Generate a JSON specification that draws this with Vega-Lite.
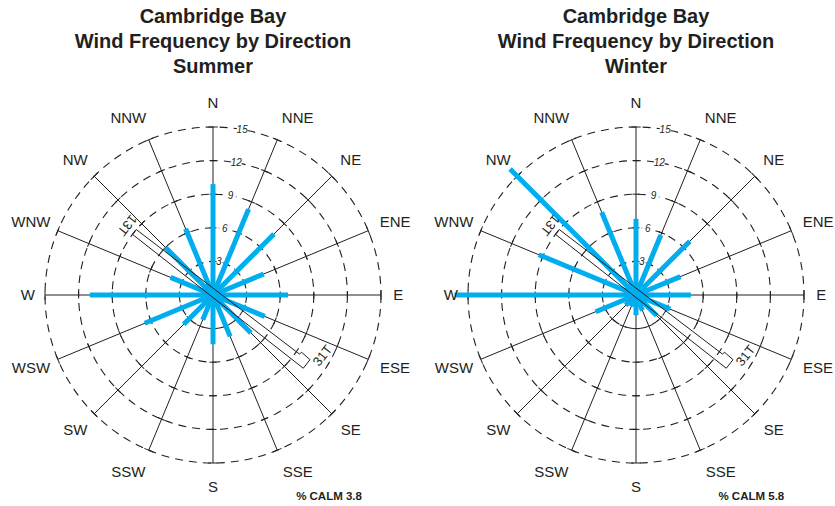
{
  "$schema": "https://vega.github.io/schema/vega-lite/v6.json",
  "background": "white",
  "padding": {"left": 3, "top": 7, "right": 0, "bottom": 0},
  "spacing": 3,
  "config": {"view": {"stroke": null}, "font": "Liberation Sans"},
  "datasets": {
    "dirs": [
      {"dir": "N", "deg": 0, "ticks": [3, 6, 9, 12, 15]},
      {"dir": "NNE", "deg": 22.5, "ticks": [3, 6, 9, 12, 15]},
      {"dir": "NE", "deg": 45, "ticks": [3, 6, 9, 12, 15]},
      {"dir": "ENE", "deg": 67.5, "ticks": [3, 6, 9, 12, 15]},
      {"dir": "E", "deg": 90, "ticks": [3, 6, 9, 12, 15]},
      {"dir": "ESE", "deg": 112.5, "ticks": [3, 6, 9, 12, 15]},
      {"dir": "SE", "deg": 135, "ticks": [3, 6, 9, 12, 15]},
      {"dir": "SSE", "deg": 157.5, "ticks": [3, 6, 9, 12, 15]},
      {"dir": "S", "deg": 180, "ticks": [3, 6, 9, 12, 15]},
      {"dir": "SSW", "deg": 202.5, "ticks": [3, 6, 9, 12, 15]},
      {"dir": "SW", "deg": 225, "ticks": [3, 6, 9, 12, 15]},
      {"dir": "WSW", "deg": 247.5, "ticks": [3, 6, 9, 12, 15]},
      {"dir": "W", "deg": 270, "ticks": [3, 6, 9, 12, 15]},
      {"dir": "WNW", "deg": 292.5, "ticks": [3, 6, 9, 12, 15]},
      {"dir": "NW", "deg": 315, "ticks": [3, 6, 9, 12, 15]},
      {"dir": "NNW", "deg": 337.5, "ticks": [3, 6, 9, 12, 15]}
    ],
    "rings": [{"r": 3}, {"r": 6}, {"r": 9}, {"r": 12}, {"r": 15}],
    "freq": [
      {"season": "Summer", "dir": "N", "deg": 0, "pct": 9.9},
      {"season": "Summer", "dir": "NNE", "deg": 22.5, "pct": 8.3},
      {"season": "Summer", "dir": "NE", "deg": 45, "pct": 7.7},
      {"season": "Summer", "dir": "ENE", "deg": 67.5, "pct": 4.9},
      {"season": "Summer", "dir": "E", "deg": 90, "pct": 6.7},
      {"season": "Summer", "dir": "ESE", "deg": 112.5, "pct": 5.0},
      {"season": "Summer", "dir": "SE", "deg": 135, "pct": 4.8},
      {"season": "Summer", "dir": "SSE", "deg": 157.5, "pct": 4.0},
      {"season": "Summer", "dir": "S", "deg": 180, "pct": 4.4},
      {"season": "Summer", "dir": "SSW", "deg": 202.5, "pct": 2.4},
      {"season": "Summer", "dir": "SW", "deg": 225, "pct": 3.7},
      {"season": "Summer", "dir": "WSW", "deg": 247.5, "pct": 6.6},
      {"season": "Summer", "dir": "W", "deg": 270, "pct": 11.0},
      {"season": "Summer", "dir": "WNW", "deg": 292.5, "pct": 4.1},
      {"season": "Summer", "dir": "NW", "deg": 315, "pct": 6.0},
      {"season": "Summer", "dir": "NNW", "deg": 337.5, "pct": 6.4},
      {"season": "Winter", "dir": "N", "deg": 0, "pct": 6.8},
      {"season": "Winter", "dir": "NNE", "deg": 22.5, "pct": 5.8},
      {"season": "Winter", "dir": "NE", "deg": 45, "pct": 6.8},
      {"season": "Winter", "dir": "ENE", "deg": 67.5, "pct": 4.3},
      {"season": "Winter", "dir": "E", "deg": 90, "pct": 4.9},
      {"season": "Winter", "dir": "ESE", "deg": 112.5, "pct": 3.3},
      {"season": "Winter", "dir": "SE", "deg": 135, "pct": 2.6},
      {"season": "Winter", "dir": "SSE", "deg": 157.5, "pct": 1.5},
      {"season": "Winter", "dir": "S", "deg": 180, "pct": 1.8},
      {"season": "Winter", "dir": "SSW", "deg": 202.5, "pct": 1.1},
      {"season": "Winter", "dir": "SW", "deg": 225, "pct": 1.3},
      {"season": "Winter", "dir": "WSW", "deg": 247.5, "pct": 3.9},
      {"season": "Winter", "dir": "W", "deg": 270, "pct": 16.2},
      {"season": "Winter", "dir": "WNW", "deg": 292.5, "pct": 9.4},
      {"season": "Winter", "dir": "NW", "deg": 315, "pct": 15.9},
      {"season": "Winter", "dir": "NNW", "deg": 337.5, "pct": 8.0}
    ],
    "runway": [
      {"i": 1, "x": -6.86, "y": 5.85},
      {"i": 2, "x": 7.71, "y": -5.27},
      {"i": 3, "x": 7.92, "y": -5.12},
      {"i": 4, "x": 8.66, "y": -5.78},
      {"i": 5, "x": 8.06, "y": -6.54},
      {"i": 6, "x": -7.2, "y": 5.42},
      {"i": 7, "x": -6.86, "y": 5.85}
    ],
    "runwayLabels": [
      {"t": "13T", "x": -7.68, "y": 6.25},
      {"t": "31T", "x": 9.8, "y": -5.43}
    ],
    "calm": [
      {"season": "Summer", "label": "% CALM 3.8"},
      {"season": "Winter", "label": "% CALM 5.8"}
    ]
  },
  "hconcat": [
    {
      "width": 420,
      "height": 420,
      "title": {"text": ["Cambridge Bay", "Wind Frequency by Direction", "Summer"], "fontSize": 20, "font": "Liberation Sans", "fontWeight": "bold", "lineHeight": 25, "offset": 8, "anchor": "middle", "color": "#231f20"},
      "layer": [
        {
          "data": {"name": "rings"},
          "mark": {"type": "point", "shape": "circle", "filled": false, "stroke": "#231f20", "strokeWidth": 1.1, "strokeDash": [8, 6], "opacity": 1},
          "encoding": {
            "x": {"datum": 0, "type": "quantitative", "scale": {"domain": [-18.75, 18.75], "nice": false, "zero": false}, "axis": null},
            "y": {"datum": 0, "type": "quantitative", "scale": {"domain": [-18.75, 18.75], "nice": false, "zero": false}, "axis": null},
            "size": {"field": "r", "type": "quantitative", "legend": null, "scale": {"type": "pow", "exponent": 2, "domain": [0, 15], "range": [0, 112896], "zero": true}}
          }
        },
        {
          "data": {"name": "rings"},
          "transform": [{"calculate": "datum.r*sin(10*PI/180)", "as": "lx"}, {"calculate": "datum.r*cos(10*PI/180)", "as": "ly"}],
          "mark": {"type": "point", "shape": "circle", "filled": true, "color": "white", "opacity": 1, "size": 120},
          "encoding": {
            "x": {"field": "lx", "type": "quantitative", "scale": {"domain": [-18.75, 18.75], "nice": false, "zero": false}, "axis": null},
            "y": {"field": "ly", "type": "quantitative", "scale": {"domain": [-18.75, 18.75], "nice": false, "zero": false}, "axis": null}
          }
        },
        {
          "data": {"name": "dirs"},
          "transform": [{"calculate": "15*sin(datum.deg*PI/180)", "as": "ex"}, {"calculate": "15*cos(datum.deg*PI/180)", "as": "ey"}],
          "mark": {"type": "rule", "color": "#231f20", "strokeWidth": 1},
          "encoding": {
            "x": {"field": "ex", "type": "quantitative", "scale": {"domain": [-18.75, 18.75], "nice": false, "zero": false}, "axis": null},
            "y": {"field": "ey", "type": "quantitative", "scale": {"domain": [-18.75, 18.75], "nice": false, "zero": false}, "axis": null},
            "x2": {"datum": 0},
            "y2": {"datum": 0}
          }
        },
        {
          "data": {"name": "dirs"},
          "transform": [{"flatten": ["ticks"], "as": ["r"]}, {"calculate": "datum.r*sin(datum.deg*PI/180)", "as": "tx"}, {"calculate": "datum.r*cos(datum.deg*PI/180)", "as": "ty"}],
          "mark": {"type": "point", "shape": "stroke", "filled": false, "stroke": "#231f20", "strokeWidth": 1, "opacity": 1},
          "encoding": {
            "x": {"field": "tx", "type": "quantitative", "scale": {"domain": [-18.75, 18.75], "nice": false, "zero": false}, "axis": null},
            "y": {"field": "ty", "type": "quantitative", "scale": {"domain": [-18.75, 18.75], "nice": false, "zero": false}, "axis": null},
            "angle": {"field": "deg", "type": "quantitative", "scale": null},
            "size": {"condition": {"test": "datum.r == 15", "value": 90}, "value": 49}
          }
        },
        {
          "data": {"name": "freq"},
          "transform": [{"filter": "datum.season == 'Summer'"}, {"calculate": "datum.pct*sin(datum.deg*PI/180)", "as": "bx"}, {"calculate": "datum.pct*cos(datum.deg*PI/180)", "as": "by"}],
          "mark": {"type": "rule", "color": "#00aeef", "strokeWidth": 5, "strokeCap": "butt"},
          "encoding": {
            "x": {"field": "bx", "type": "quantitative", "scale": {"domain": [-18.75, 18.75], "nice": false, "zero": false}, "axis": null},
            "y": {"field": "by", "type": "quantitative", "scale": {"domain": [-18.75, 18.75], "nice": false, "zero": false}, "axis": null},
            "x2": {"datum": 0},
            "y2": {"datum": 0}
          }
        },
        {
          "data": {"name": "runway"},
          "mark": {"type": "line", "color": "#231f20", "strokeWidth": 1},
          "encoding": {
            "x": {"field": "x", "type": "quantitative", "scale": {"domain": [-18.75, 18.75], "nice": false, "zero": false}, "axis": null},
            "y": {"field": "y", "type": "quantitative", "scale": {"domain": [-18.75, 18.75], "nice": false, "zero": false}, "axis": null},
            "order": {"field": "i", "type": "quantitative"}
          }
        },
        {
          "data": {"name": "rings"},
          "transform": [{"calculate": "datum.r*sin(10*PI/180)", "as": "lx"}, {"calculate": "datum.r*cos(10*PI/180)", "as": "ly"}],
          "mark": {"type": "text", "fontSize": 10, "fontStyle": "italic", "color": "#231f20", "align": "center", "baseline": "middle"},
          "encoding": {
            "x": {"field": "lx", "type": "quantitative", "scale": {"domain": [-18.75, 18.75], "nice": false, "zero": false}, "axis": null},
            "y": {"field": "ly", "type": "quantitative", "scale": {"domain": [-18.75, 18.75], "nice": false, "zero": false}, "axis": null},
            "text": {"field": "r", "type": "quantitative"}
          }
        },
        {
          "data": {"name": "dirs"},
          "transform": [
            {"calculate": "sin(datum.deg*PI/180)", "as": "s"},
            {"calculate": "16.07*datum.s + (datum.s > 0.01 ? 1 : (datum.s < -0.01 ? -1 : 0)) * length(datum.dir) * 0.47", "as": "dx"},
            {"calculate": "17.1*cos(datum.deg*PI/180)", "as": "dy"}
          ],
          "mark": {"type": "text", "fontSize": 15, "color": "#231f20", "align": "center", "baseline": "middle"},
          "encoding": {
            "x": {"field": "dx", "type": "quantitative", "scale": {"domain": [-18.75, 18.75], "nice": false, "zero": false}, "axis": null},
            "y": {"field": "dy", "type": "quantitative", "scale": {"domain": [-18.75, 18.75], "nice": false, "zero": false}, "axis": null},
            "text": {"field": "dir", "type": "nominal"}
          }
        },
        {
          "data": {"name": "runwayLabels"},
          "transform": [{"filter": "datum.t == '13T'"}],
          "mark": {"type": "text", "fontSize": 13, "color": "#231f20", "align": "center", "baseline": "middle", "angle": 128},
          "encoding": {
            "x": {"field": "x", "type": "quantitative", "scale": {"domain": [-18.75, 18.75], "nice": false, "zero": false}, "axis": null},
            "y": {"field": "y", "type": "quantitative", "scale": {"domain": [-18.75, 18.75], "nice": false, "zero": false}, "axis": null},
            "text": {"field": "t", "type": "nominal"}
          }
        },
        {
          "data": {"name": "runwayLabels"},
          "transform": [{"filter": "datum.t == '31T'"}],
          "mark": {"type": "text", "fontSize": 13, "color": "#231f20", "align": "center", "baseline": "middle", "angle": -52},
          "encoding": {
            "x": {"field": "x", "type": "quantitative", "scale": {"domain": [-18.75, 18.75], "nice": false, "zero": false}, "axis": null},
            "y": {"field": "y", "type": "quantitative", "scale": {"domain": [-18.75, 18.75], "nice": false, "zero": false}, "axis": null},
            "text": {"field": "t", "type": "nominal"}
          }
        },
        {
          "data": {"name": "calm"},
          "transform": [{"filter": "datum.season == 'Summer'"}],
          "mark": {"type": "text", "fontSize": 11.5, "fontWeight": "bold", "color": "#231f20", "align": "center", "baseline": "middle"},
          "encoding": {
            "x": {"datum": 10.36, "type": "quantitative", "scale": {"domain": [-18.75, 18.75], "nice": false, "zero": false}, "axis": null},
            "y": {"datum": -18.04, "type": "quantitative", "scale": {"domain": [-18.75, 18.75], "nice": false, "zero": false}, "axis": null},
            "text": {"field": "label", "type": "nominal"}
          }
        }
      ]
    },
    {
      "width": 420,
      "height": 420,
      "title": {"text": ["Cambridge Bay", "Wind Frequency by Direction", "Winter"], "fontSize": 20, "font": "Liberation Sans", "fontWeight": "bold", "lineHeight": 25, "offset": 8, "anchor": "middle", "color": "#231f20"},
      "layer": [
        {
          "data": {"name": "rings"},
          "mark": {"type": "point", "shape": "circle", "filled": false, "stroke": "#231f20", "strokeWidth": 1.1, "strokeDash": [8, 6], "opacity": 1},
          "encoding": {
            "x": {"datum": 0, "type": "quantitative", "scale": {"domain": [-18.75, 18.75], "nice": false, "zero": false}, "axis": null},
            "y": {"datum": 0, "type": "quantitative", "scale": {"domain": [-18.75, 18.75], "nice": false, "zero": false}, "axis": null},
            "size": {"field": "r", "type": "quantitative", "legend": null, "scale": {"type": "pow", "exponent": 2, "domain": [0, 15], "range": [0, 112896], "zero": true}}
          }
        },
        {
          "data": {"name": "rings"},
          "transform": [{"calculate": "datum.r*sin(10*PI/180)", "as": "lx"}, {"calculate": "datum.r*cos(10*PI/180)", "as": "ly"}],
          "mark": {"type": "point", "shape": "circle", "filled": true, "color": "white", "opacity": 1, "size": 120},
          "encoding": {
            "x": {"field": "lx", "type": "quantitative", "scale": {"domain": [-18.75, 18.75], "nice": false, "zero": false}, "axis": null},
            "y": {"field": "ly", "type": "quantitative", "scale": {"domain": [-18.75, 18.75], "nice": false, "zero": false}, "axis": null}
          }
        },
        {
          "data": {"name": "dirs"},
          "transform": [{"calculate": "15*sin(datum.deg*PI/180)", "as": "ex"}, {"calculate": "15*cos(datum.deg*PI/180)", "as": "ey"}],
          "mark": {"type": "rule", "color": "#231f20", "strokeWidth": 1},
          "encoding": {
            "x": {"field": "ex", "type": "quantitative", "scale": {"domain": [-18.75, 18.75], "nice": false, "zero": false}, "axis": null},
            "y": {"field": "ey", "type": "quantitative", "scale": {"domain": [-18.75, 18.75], "nice": false, "zero": false}, "axis": null},
            "x2": {"datum": 0},
            "y2": {"datum": 0}
          }
        },
        {
          "data": {"name": "dirs"},
          "transform": [{"flatten": ["ticks"], "as": ["r"]}, {"calculate": "datum.r*sin(datum.deg*PI/180)", "as": "tx"}, {"calculate": "datum.r*cos(datum.deg*PI/180)", "as": "ty"}],
          "mark": {"type": "point", "shape": "stroke", "filled": false, "stroke": "#231f20", "strokeWidth": 1, "opacity": 1},
          "encoding": {
            "x": {"field": "tx", "type": "quantitative", "scale": {"domain": [-18.75, 18.75], "nice": false, "zero": false}, "axis": null},
            "y": {"field": "ty", "type": "quantitative", "scale": {"domain": [-18.75, 18.75], "nice": false, "zero": false}, "axis": null},
            "angle": {"field": "deg", "type": "quantitative", "scale": null},
            "size": {"condition": {"test": "datum.r == 15", "value": 90}, "value": 49}
          }
        },
        {
          "data": {"name": "freq"},
          "transform": [{"filter": "datum.season == 'Winter'"}, {"calculate": "datum.pct*sin(datum.deg*PI/180)", "as": "bx"}, {"calculate": "datum.pct*cos(datum.deg*PI/180)", "as": "by"}],
          "mark": {"type": "rule", "color": "#00aeef", "strokeWidth": 5, "strokeCap": "butt"},
          "encoding": {
            "x": {"field": "bx", "type": "quantitative", "scale": {"domain": [-18.75, 18.75], "nice": false, "zero": false}, "axis": null},
            "y": {"field": "by", "type": "quantitative", "scale": {"domain": [-18.75, 18.75], "nice": false, "zero": false}, "axis": null},
            "x2": {"datum": 0},
            "y2": {"datum": 0}
          }
        },
        {
          "data": {"name": "runway"},
          "mark": {"type": "line", "color": "#231f20", "strokeWidth": 1},
          "encoding": {
            "x": {"field": "x", "type": "quantitative", "scale": {"domain": [-18.75, 18.75], "nice": false, "zero": false}, "axis": null},
            "y": {"field": "y", "type": "quantitative", "scale": {"domain": [-18.75, 18.75], "nice": false, "zero": false}, "axis": null},
            "order": {"field": "i", "type": "quantitative"}
          }
        },
        {
          "data": {"name": "rings"},
          "transform": [{"calculate": "datum.r*sin(10*PI/180)", "as": "lx"}, {"calculate": "datum.r*cos(10*PI/180)", "as": "ly"}],
          "mark": {"type": "text", "fontSize": 10, "fontStyle": "italic", "color": "#231f20", "align": "center", "baseline": "middle"},
          "encoding": {
            "x": {"field": "lx", "type": "quantitative", "scale": {"domain": [-18.75, 18.75], "nice": false, "zero": false}, "axis": null},
            "y": {"field": "ly", "type": "quantitative", "scale": {"domain": [-18.75, 18.75], "nice": false, "zero": false}, "axis": null},
            "text": {"field": "r", "type": "quantitative"}
          }
        },
        {
          "data": {"name": "dirs"},
          "transform": [
            {"calculate": "sin(datum.deg*PI/180)", "as": "s"},
            {"calculate": "16.07*datum.s + (datum.s > 0.01 ? 1 : (datum.s < -0.01 ? -1 : 0)) * length(datum.dir) * 0.47", "as": "dx"},
            {"calculate": "17.1*cos(datum.deg*PI/180)", "as": "dy"}
          ],
          "mark": {"type": "text", "fontSize": 15, "color": "#231f20", "align": "center", "baseline": "middle"},
          "encoding": {
            "x": {"field": "dx", "type": "quantitative", "scale": {"domain": [-18.75, 18.75], "nice": false, "zero": false}, "axis": null},
            "y": {"field": "dy", "type": "quantitative", "scale": {"domain": [-18.75, 18.75], "nice": false, "zero": false}, "axis": null},
            "text": {"field": "dir", "type": "nominal"}
          }
        },
        {
          "data": {"name": "runwayLabels"},
          "transform": [{"filter": "datum.t == '13T'"}],
          "mark": {"type": "text", "fontSize": 13, "color": "#231f20", "align": "center", "baseline": "middle", "angle": 128},
          "encoding": {
            "x": {"field": "x", "type": "quantitative", "scale": {"domain": [-18.75, 18.75], "nice": false, "zero": false}, "axis": null},
            "y": {"field": "y", "type": "quantitative", "scale": {"domain": [-18.75, 18.75], "nice": false, "zero": false}, "axis": null},
            "text": {"field": "t", "type": "nominal"}
          }
        },
        {
          "data": {"name": "runwayLabels"},
          "transform": [{"filter": "datum.t == '31T'"}],
          "mark": {"type": "text", "fontSize": 13, "color": "#231f20", "align": "center", "baseline": "middle", "angle": -52},
          "encoding": {
            "x": {"field": "x", "type": "quantitative", "scale": {"domain": [-18.75, 18.75], "nice": false, "zero": false}, "axis": null},
            "y": {"field": "y", "type": "quantitative", "scale": {"domain": [-18.75, 18.75], "nice": false, "zero": false}, "axis": null},
            "text": {"field": "t", "type": "nominal"}
          }
        },
        {
          "data": {"name": "calm"},
          "transform": [{"filter": "datum.season == 'Winter'"}],
          "mark": {"type": "text", "fontSize": 11.5, "fontWeight": "bold", "color": "#231f20", "align": "center", "baseline": "middle"},
          "encoding": {
            "x": {"datum": 10.3, "type": "quantitative", "scale": {"domain": [-18.75, 18.75], "nice": false, "zero": false}, "axis": null},
            "y": {"datum": -18.04, "type": "quantitative", "scale": {"domain": [-18.75, 18.75], "nice": false, "zero": false}, "axis": null},
            "text": {"field": "label", "type": "nominal"}
          }
        }
      ]
    }
  ]
}
